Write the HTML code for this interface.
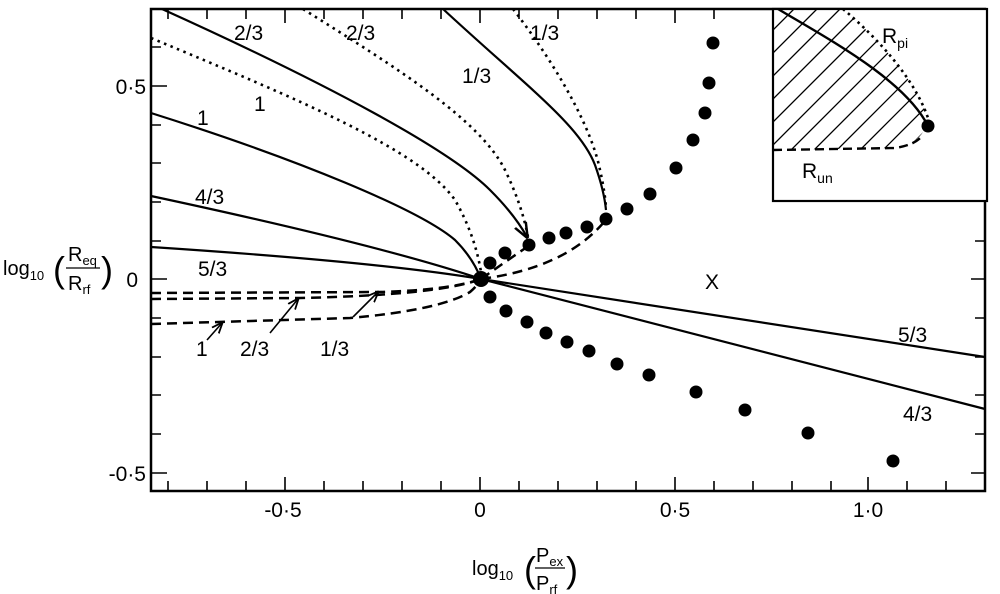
<!DOCTYPE html>
<html><head><meta charset="utf-8"><style>
html,body{margin:0;padding:0;background:#fff;}
svg{display:block;}
text{font-family:"Liberation Sans",sans-serif;fill:#000;}
</style></head><body>
<svg width="1000" height="594" viewBox="0 0 1000 594" xmlns="http://www.w3.org/2000/svg">
<defs>
<marker id="ah" viewBox="0 0 10 10" refX="9" refY="5" markerWidth="7" markerHeight="7" orient="auto"><path d="M0,1 L10,5 L0,9" fill="none" stroke="#000" stroke-width="1.6"/></marker>
<clipPath id="hc"><path d="M773,9 L843,9 C880,40 915,80 928,118 Q925,140 900,148 L773,150 Z"/></clipPath>
</defs>
<g fill="none" stroke="#000">
<rect x="151" y="9" width="834" height="482" stroke-width="2.5"/>
<g stroke-width="1.6">
<path d="M168,491v-10M207,491v-10M246,491v-10M285,491v-14M324,491v-10M363,491v-10M402,491v-10M441,491v-10M480,491v-14M519,491v-10M558,491v-10M597,491v-10M636,491v-10M675,491v-14M714,491v-10M753,491v-10M792,491v-10M831,491v-10M868,491v-14M907,491v-10M946,491v-10"/>
<path d="M168,9v10M207,9v10M246,9v10M285,9v14M324,9v10M363,9v10M402,9v10M441,9v10M480,9v14M519,9v10M558,9v10M597,9v10M636,9v10M675,9v14M714,9v10"/>
<path d="M151,47h10M151,86h16M151,125h10M151,163h10M151,202h10M151,241h10M151,279h16M151,318h10M151,357h10M151,395h10M151,434h10M151,473h16"/>
<path d="M985,241h-10M985,279h-14M985,318h-10M985,357h-10M985,395h-10M985,434h-10M985,473h-14"/>
</g>
<rect x="773" y="9" width="214" height="192" fill="#fff" stroke-width="2.2"/>
<g clip-path="url(#hc)" stroke-width="1.3">
<path d="M773,30 L794,9 M773,53 L817,9 M773,76 L840,9 M773,99 L863,9 M773,122 L886,9 M773,145 L909,9 M786,155 L932,9 M809,155 L955,9 M832,155 L978,9 M855,155 L1001,9 M878,155 L1024,9 M901,155 L1047,9 M924,155 L1070,9"/>
</g>
<path d="M778,9 C830,40 905,80 928,126" stroke-width="2.4"/>
<path d="M843,9 C880,40 915,80 928,118" stroke-width="2.6" stroke-dasharray="2.5,4"/>
<path d="M773,150 L895,148 Q915,145 922,136" stroke-width="2.4" stroke-dasharray="9,5"/>
<circle cx="928" cy="126" r="6.5" fill="#000" stroke="none"/>
<g stroke-width="2.2">
<path d="M162,9 C330,85 450,150 490,190 Q515,215 527,237" marker-end="url(#ah)"/>
<path d="M151,113 C300,160 420,210 455,240 Q473,258 481,279"/>
<path d="M151,196 Q380,245 481,279"/>
<path d="M151,247 Q380,262 481,279"/>
<path d="M443,9 C525,85 580,125 595,165 Q604,190 606,210"/>
<path d="M481,279 L985,357"/>
<path d="M481,279 L985,409"/>
</g>
<g stroke-width="2.6" stroke-dasharray="2.5,4.5">
<path d="M151,38 C300,100 420,150 455,200 Q475,235 481,272"/>
<path d="M303,9 C400,70 480,120 505,170 Q522,205 528,237"/>
<path d="M513,9 C560,70 592,130 600,170 Q605,192 606,208"/>
</g>
<g stroke-width="2.5" stroke-dasharray="10,6">
<path d="M151,293 L380,292 Q450,290 481,279"/>
<path d="M151,299 L300,298 Q440,295 481,279"/>
<path d="M151,324 L350,318 Q440,310 470,292 Q478,285 481,279"/>
<path d="M481,279 Q565,268 604,222"/>
<path d="M481,279 Q505,262 527,247"/>
</g>
<g stroke-width="1.6">
<path d="M207,340 L222,323" marker-end="url(#ah)"/>
<path d="M270,333 L298,299" marker-end="url(#ah)"/>
<path d="M353,317 L378,292" marker-end="url(#ah)"/>
</g>
</g>
<g fill="#000">
<circle cx="481" cy="279" r="8"/>
<circle cx="490" cy="263" r="6.5"/><circle cx="505" cy="253" r="6.5"/><circle cx="529" cy="245" r="6.5"/><circle cx="549" cy="238" r="6.5"/><circle cx="566" cy="233" r="6.5"/><circle cx="587" cy="227" r="6.5"/><circle cx="606" cy="219" r="6.5"/><circle cx="627" cy="209" r="6.5"/><circle cx="650" cy="194" r="6.5"/><circle cx="676" cy="168" r="6.5"/><circle cx="693" cy="140" r="6.5"/><circle cx="705" cy="113" r="6.5"/><circle cx="709" cy="83" r="6.5"/><circle cx="713" cy="43" r="6.5"/>
<circle cx="490" cy="297" r="6.5"/><circle cx="506" cy="311" r="6.5"/><circle cx="527" cy="322" r="6.5"/><circle cx="546" cy="333" r="6.5"/><circle cx="567" cy="342" r="6.5"/><circle cx="589" cy="351" r="6.5"/><circle cx="617" cy="364" r="6.5"/><circle cx="649" cy="375" r="6.5"/><circle cx="696" cy="392" r="6.5"/><circle cx="745" cy="410" r="6.5"/><circle cx="808" cy="433" r="6.5"/><circle cx="893" cy="461" r="6.5"/>
</g>
<g font-size="21">
<text x="234" y="40">2/3</text><text x="346" y="40">2/3</text>
<text x="462" y="83">1/3</text><text x="530" y="40">1/3</text>
<text x="197" y="125">1</text><text x="254" y="111">1</text>
<text x="195" y="204">4/3</text><text x="198" y="276">5/3</text>
<text x="196" y="356">1</text><text x="240" y="356">2/3</text><text x="320" y="356">1/3</text>
<text x="705" y="289">X</text>
<text x="898" y="342">5/3</text><text x="903" y="421">4/3</text>
<text x="882" y="43">R<tspan font-size="14" dy="5">pi</tspan></text>
<text x="802" y="178">R<tspan font-size="14" dy="5">un</tspan></text>
</g>
<g font-size="21" text-anchor="end">
<text x="146" y="94">0·5</text><text x="138" y="287">0</text><text x="146" y="481">-0·5</text>
</g>
<g font-size="21" text-anchor="middle">
<text x="283" y="517">-0·5</text><text x="480" y="517">0</text><text x="675" y="517">0·5</text><text x="868" y="517">1·0</text>
</g>
<g font-size="20">
<text x="472" y="575">log<tspan font-size="13" dy="5">10</tspan></text>
<text x="524" y="582" font-size="36">(</text>
<text x="536" y="562">P<tspan font-size="13" dy="4">ex</tspan></text>
<line x1="535" y1="568" x2="565" y2="568" stroke="#000" stroke-width="1.2"/>
<text x="536" y="590">P<tspan font-size="13" dy="4">rf</tspan></text>
<text x="566" y="582" font-size="36">)</text>
<text x="3" y="275">log<tspan font-size="13" dy="5">10</tspan></text>
<text x="53" y="282" font-size="36">(</text>
<text x="68" y="261">R<tspan font-size="13" dy="4">eq</tspan></text>
<line x1="66" y1="268" x2="100" y2="268" stroke="#000" stroke-width="1.2"/>
<text x="68" y="290">R<tspan font-size="13" dy="4">rf</tspan></text>
<text x="101" y="282" font-size="36">)</text>
</g>
</svg>
</body></html>
